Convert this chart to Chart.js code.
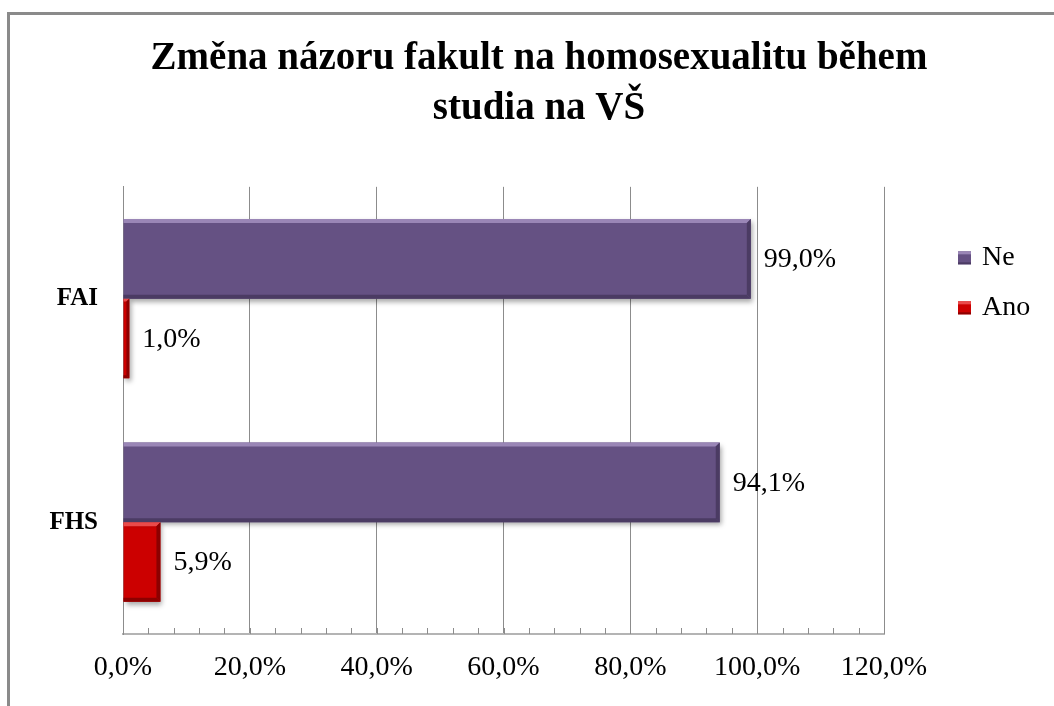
<!DOCTYPE html>
<html>
<head>
<meta charset="utf-8">
<script src="https://cdn.jsdelivr.net/npm/chart.js@4.4.1/dist/chart.umd.min.js"></script>
<style>
  html, body { margin: 0; padding: 0; background: #fff; overflow: hidden; }
  #frame {
    position: absolute; left: 7px; top: 12px; width: 2000px; height: 2000px;
    border-left: 3px solid #8a8a8a; border-top: 3px solid #8a8a8a;
  }
  #myChart { position: absolute; left: 0; top: 0; }
</style>
</head>
<body>
<div id="frame"></div>
<canvas id="myChart" width="1054" height="706"></canvas>
<script>
const titleLines = ["Změna názoru fakult na homosexualitu během", "studia na VŠ"];
const categories = ["FAI", "FHS"];
const seriesNames = ["Ne", "Ano"];
const neValues = [99.0, 94.1];
const anoValues = [1.0, 5.9];
const axisMin = 0;
const axisMax = 120;
const majorStep = 20;
const minorStep = 4;

const serif = "'Liberation Serif', 'Times New Roman', serif";
const colors = {
    Ne: { base: "#655183", light: "#9a86b6", dark: "#4b3b63" },
    Ano: { base: "#cc0000", light: "#ea4a4a", dark: "#8c0000" },
};

const pct = (v) => v.toFixed(1).replace(".", ",") + "%";

// soft shadow + bevel on the bars
const bevelPlugin = {
    id: "bevel",
    beforeDatasetsDraw(chart) {
        const ctx = chart.ctx;
        ctx.save();
        ctx.shadowColor = "rgba(0,0,0,0.35)";
        ctx.shadowBlur = 5;
        ctx.shadowOffsetX = 2;
        ctx.shadowOffsetY = 3;
    },
    afterDatasetsDraw(chart) {
        const ctx = chart.ctx;
        ctx.restore();
        chart.data.datasets.forEach((ds, di) => {
            const c = colors[ds.label];
            chart.getDatasetMeta(di).data.forEach((bar) => {
                const l = bar.base, r = bar.x;
                const t = bar.y - bar.height / 2, b = bar.y + bar.height / 2;
                const e = Math.min(4, (r - l) / 2);
                ctx.save();
                ctx.fillStyle = c.light;
                ctx.beginPath();
                ctx.moveTo(l, t); ctx.lineTo(r, t); ctx.lineTo(r - e, t + e); ctx.lineTo(l, t + e);
                ctx.closePath(); ctx.fill();
                ctx.fillStyle = c.dark;
                ctx.beginPath();
                ctx.moveTo(r, t); ctx.lineTo(r, b); ctx.lineTo(r - e, b - e); ctx.lineTo(r - e, t + e);
                ctx.closePath(); ctx.fill();
                ctx.beginPath();
                ctx.moveTo(l, b); ctx.lineTo(r, b); ctx.lineTo(r - e, b - e); ctx.lineTo(l, b - e);
                ctx.closePath(); ctx.fill();
                ctx.restore();
            });
        });
    },
};

// value labels right of each bar
const valueLabels = {
    id: "valueLabels",
    afterDatasetsDraw(chart) {
        const ctx = chart.ctx;
        ctx.save();
        ctx.font = "28px " + serif;
        ctx.fillStyle = "#000";
        ctx.textAlign = "left";
        ctx.textBaseline = "middle";
        chart.data.datasets.forEach((ds, di) => {
            chart.getDatasetMeta(di).data.forEach((bar, i) => {
                ctx.fillText(pct(ds.data[i]), bar.x + 13, bar.y + 1);
            });
        });
        ctx.restore();
    },
};

// small inward tick marks on the value axis
const minorTicks = {
    id: "minorTicks",
    afterDraw(chart) {
        const ctx = chart.ctx;
        const x = chart.scales.x;
        const bottom = chart.chartArea.bottom;
        ctx.save();
        ctx.strokeStyle = "#8c8c8c";
        ctx.lineWidth = 1;
        x.ticks.forEach((t) => {
            const px = Math.round(x.getPixelForValue(t.value)) + 0.5;
            ctx.beginPath();
            ctx.moveTo(px, bottom - 6);
            ctx.lineTo(px, bottom);
            ctx.stroke();
        });
        ctx.restore();
    },
};

// legend on the right, next to the top category
const sideLegend = {
    id: "sideLegend",
    afterDraw(chart) {
        const ctx = chart.ctx;
        const area = chart.chartArea;
        const x0 = area.right + 74;
        let y0 = area.top + 71;
        ctx.save();
        ctx.font = "28px " + serif;
        ctx.textBaseline = "middle";
        ctx.textAlign = "left";
        chart.data.datasets.forEach((ds) => {
            const c = colors[ds.label];
            const s = 13;
            ctx.fillStyle = c.base;
            ctx.fillRect(x0, y0 - s / 2, s, s);
            ctx.fillStyle = c.light;
            ctx.fillRect(x0, y0 - s / 2, s, 3);
            ctx.fillStyle = c.dark;
            ctx.fillRect(x0, y0 + s / 2 - 2, s, 2);
            ctx.fillStyle = "#000";
            ctx.fillText(ds.label, x0 + 24, y0);
            y0 += 50;
        });
        ctx.restore();
    },
};

const ctx = document.getElementById("myChart").getContext("2d");
const myChart = new Chart(ctx, {
    type: "bar",
    data: {
        labels: categories,
        datasets: [
            {
                label: seriesNames[0],
                data: neValues,
                backgroundColor: colors.Ne.base,
                borderWidth: 0,
            },
            {
                label: seriesNames[1],
                data: anoValues,
                backgroundColor: colors.Ano.base,
                borderWidth: 0,
            },
        ],
    },
    options: {
        indexAxis: "y",
        responsive: false,
        animation: false,
        categoryPercentage: 0.712,
        barPercentage: 1.0,
        layout: {
            padding: { top: 0, right: 0, bottom: 0, left: 24 },
        },
        plugins: {
            legend: { display: false },
            tooltip: { enabled: false },
            title: {
                display: true,
                text: titleLines,
                color: "#000",
                font: { family: serif, size: 39, weight: "bold", lineHeight: 1.28 },
                padding: { top: 34, bottom: 53 },
            },
        },
        scales: {
            x: {
                min: axisMin,
                max: axisMax,
                afterFit: (s) => { s.height = 72; },
                ticks: {
                    stepSize: minorStep,
                    autoSkip: false,
                    maxRotation: 0,
                    padding: 17,
                    color: "#000",
                    font: { family: serif, size: 28 },
                    callback: (v) => (v % majorStep === 0 ? pct(v) : ""),
                },
                grid: {
                    drawTicks: false,
                    color: (c) => (c.tick && c.tick.value % majorStep === 0 ? "#8c8c8c" : "rgba(0,0,0,0)"),
                },
                border: { display: true, color: "#b4b4b4", width: 2 },
            },
            y: {
                afterFit: (s) => { s.width = 99; },
                ticks: {
                    padding: 25,
                    color: "#000",
                    font: { family: serif, size: 25, weight: "bold" },
                },
                grid: { display: false, drawTicks: false },
                border: { display: true, color: "#8c8c8c", width: 1 },
            },
            legendSpace: {
                type: "linear",
                position: "right",
                display: true,
                afterFit: (s) => { s.width = 170; },
                ticks: { display: false },
                grid: { display: false, drawTicks: false },
                border: { display: false },
            },
        },
    },
    plugins: [bevelPlugin, valueLabels, minorTicks, sideLegend],
});
</script>
</body>
</html>
